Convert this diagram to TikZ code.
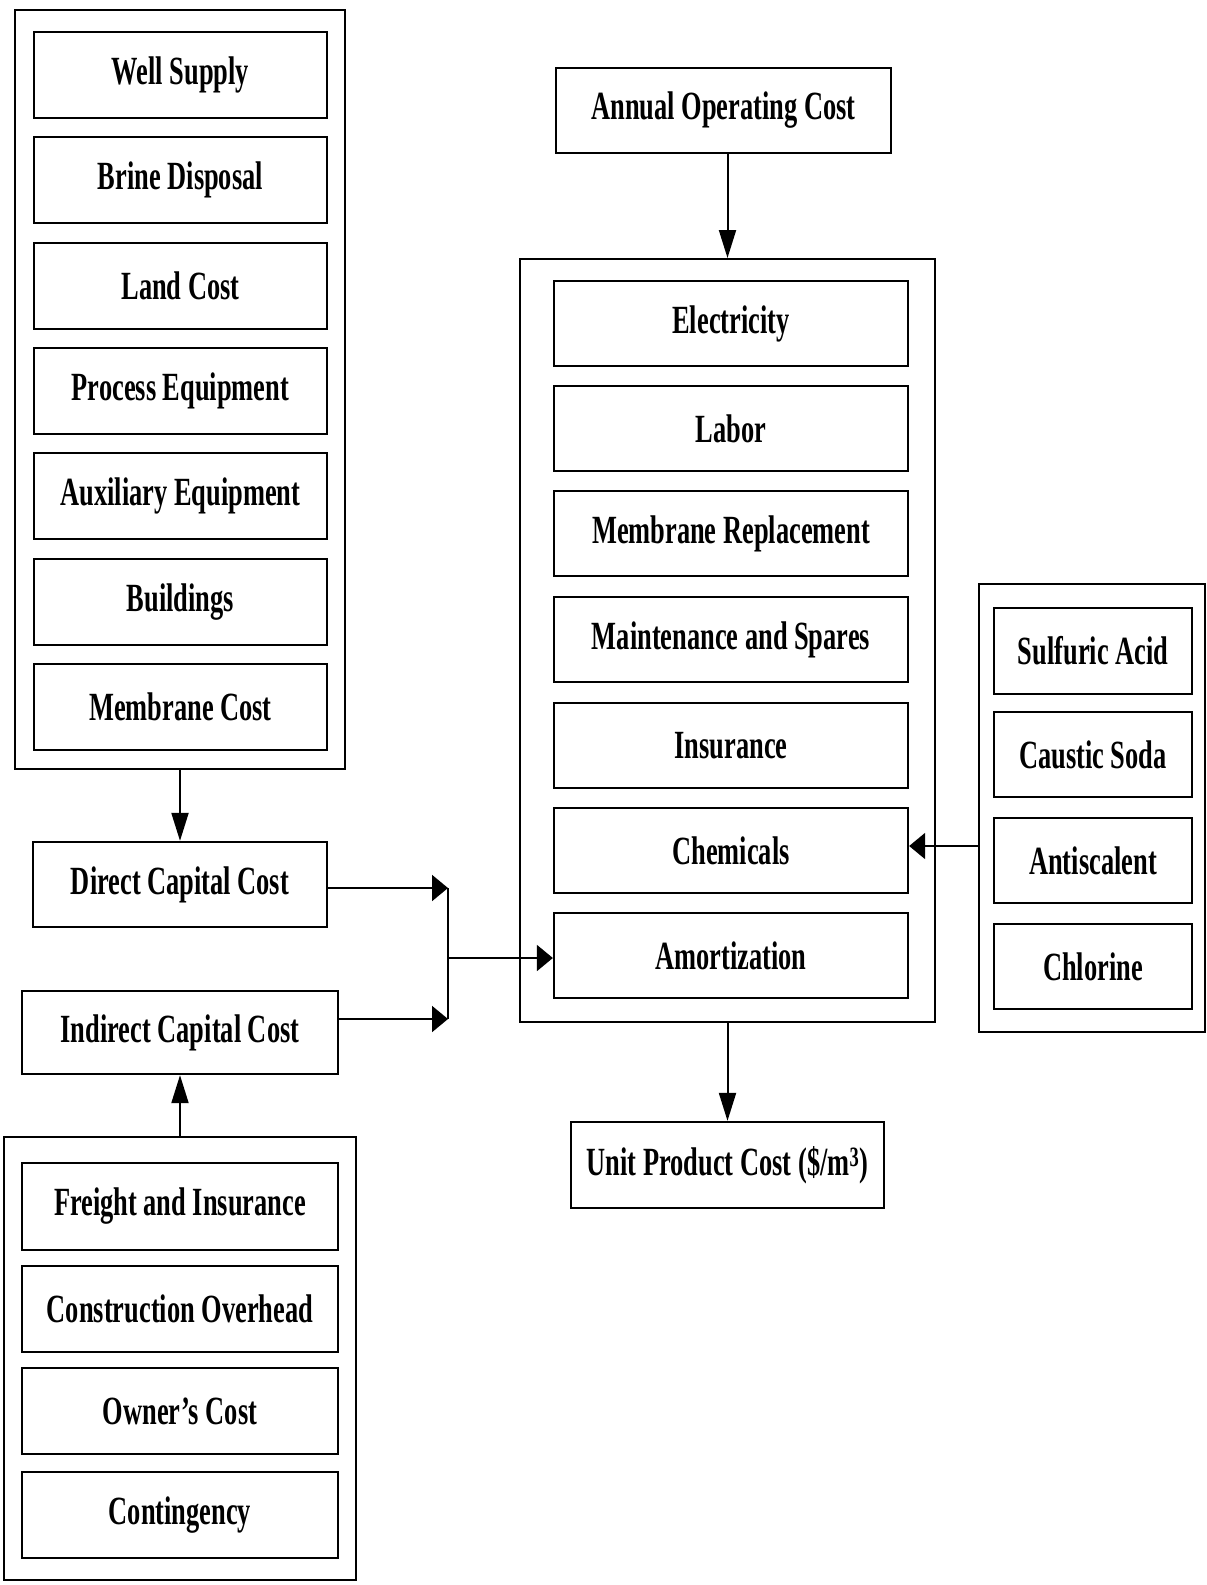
\documentclass[tikz,border=0pt]{standalone}
\usepackage{fontspec}
\setmainfont{Liberation Serif}[FakeStretch=0.66]
\usetikzlibrary{arrows.meta}
\newcommand\mybox[7]{\node[#1, minimum width={#5-#3}, minimum height={#6-#4}] (#2) at ({(#3+#5)/2},{(#4+#6)/2}) {#7};}
\begin{document}
\begin{tikzpicture}[x=1pt,y=-1pt,
  box/.style={draw, line width=2.3pt, inner sep=0pt, align=center, font=\fontsize{40}{44}\selectfont\bfseries},
  frame/.style={draw, line width=2pt, inner sep=0pt},
  varr/.style={line width=2pt, -{Triangle[length=28pt,width=17pt]}},
  harr/.style={line width=2pt, -{Triangle[length=16pt,width=26pt]}},
  conn/.style={line width=2pt}]
\useasboundingbox (0,0) rectangle (1207,1585);

% left capital stack
\mybox{frame}{leftouter}{15}{10}{345}{769}{}
\mybox{box}{well}{34}{32}{327}{118}{Well Supply}
\mybox{box}{brine}{34}{137}{327}{223}{Brine Disposal}
\mybox{box}{land}{34}{243}{327}{329}{Land Cost}
\mybox{box}{proc}{34}{348}{327}{434}{Process Equipment}
\mybox{box}{aux}{34}{453}{327}{539}{Auxiliary Equipment}
\mybox{box}{bldg}{34}{559}{327}{645}{Buildings}
\mybox{box}{memb}{34}{664}{327}{750}{Membrane Cost}

\mybox{box}{direct}{33}{842}{327}{927}{Direct Capital Cost}
\mybox{box}{indirect}{22}{991}{338}{1074}{Indirect Capital Cost}

% bottom indirect stack
\mybox{frame}{botouter}{4}{1137}{356}{1580}{}
\mybox{box}{freight}{22}{1163}{338}{1250}{Freight and Insurance}
\mybox{box}{constr}{22}{1266}{338}{1352}{Construction Overhead}
\mybox{box}{owner}{22}{1368}{338}{1454}{Owner’s Cost}
\mybox{box}{conting}{22}{1472}{338}{1558}{Contingency}

% operating cost column
\mybox{box}{annual}{556}{68}{891}{153}{Annual Operating Cost}
\mybox{frame}{rightouter}{520}{259}{935}{1022}{}
\mybox{box}{elec}{554}{281}{908}{366}{Electricity}
\mybox{box}{labor}{554}{386}{908}{471}{Labor}
\mybox{box}{membrep}{554}{491}{908}{576}{Membrane Replacement}
\mybox{box}{maint}{554}{597}{908}{682}{Maintenance and Spares}
\mybox{box}{ins}{554}{703}{908}{788}{Insurance}
\mybox{box}{chem}{554}{808}{908}{893}{Chemicals}
\mybox{box}{amort}{554}{913}{908}{998}{Amortization}
\mybox{box}{unit}{571}{1122}{884}{1208}{Unit Product Cost (\$/m\textsuperscript{3})}

% chemicals stack
\mybox{frame}{chemouter}{979}{584}{1205}{1032}{}
\mybox{box}{sulf}{994}{608}{1192}{694}{Sulfuric Acid}
\mybox{box}{caustic}{994}{712}{1192}{797}{Caustic Soda}
\mybox{box}{anti}{994}{818}{1192}{903}{Antiscalent}
\mybox{box}{chlor}{994}{924}{1192}{1009}{Chlorine}

% junction points
\coordinate (jt) at (448,888);
\coordinate (jb) at (448,1019);
\coordinate (jm) at (448,958);

% connectors
\draw[varr] (leftouter.south) -- (direct.north);
\draw[varr] (botouter.north) -- (indirect.south);
\draw[harr] (direct.east |- jt) -- (jt);
\draw[harr] (indirect.east |- jb) -- (jb);
\draw[conn] (jt) -- (jb);
\draw[harr] (jm) -- (amort.west |- jm);
\draw[varr] (annual.south -| rightouter.north) -- (rightouter.north);
\draw[varr] (rightouter.south) -- (unit.north);
\draw[harr] (chemouter.west |- 0,846) -- (chem.east |- 0,846);
\end{tikzpicture}
\end{document}
